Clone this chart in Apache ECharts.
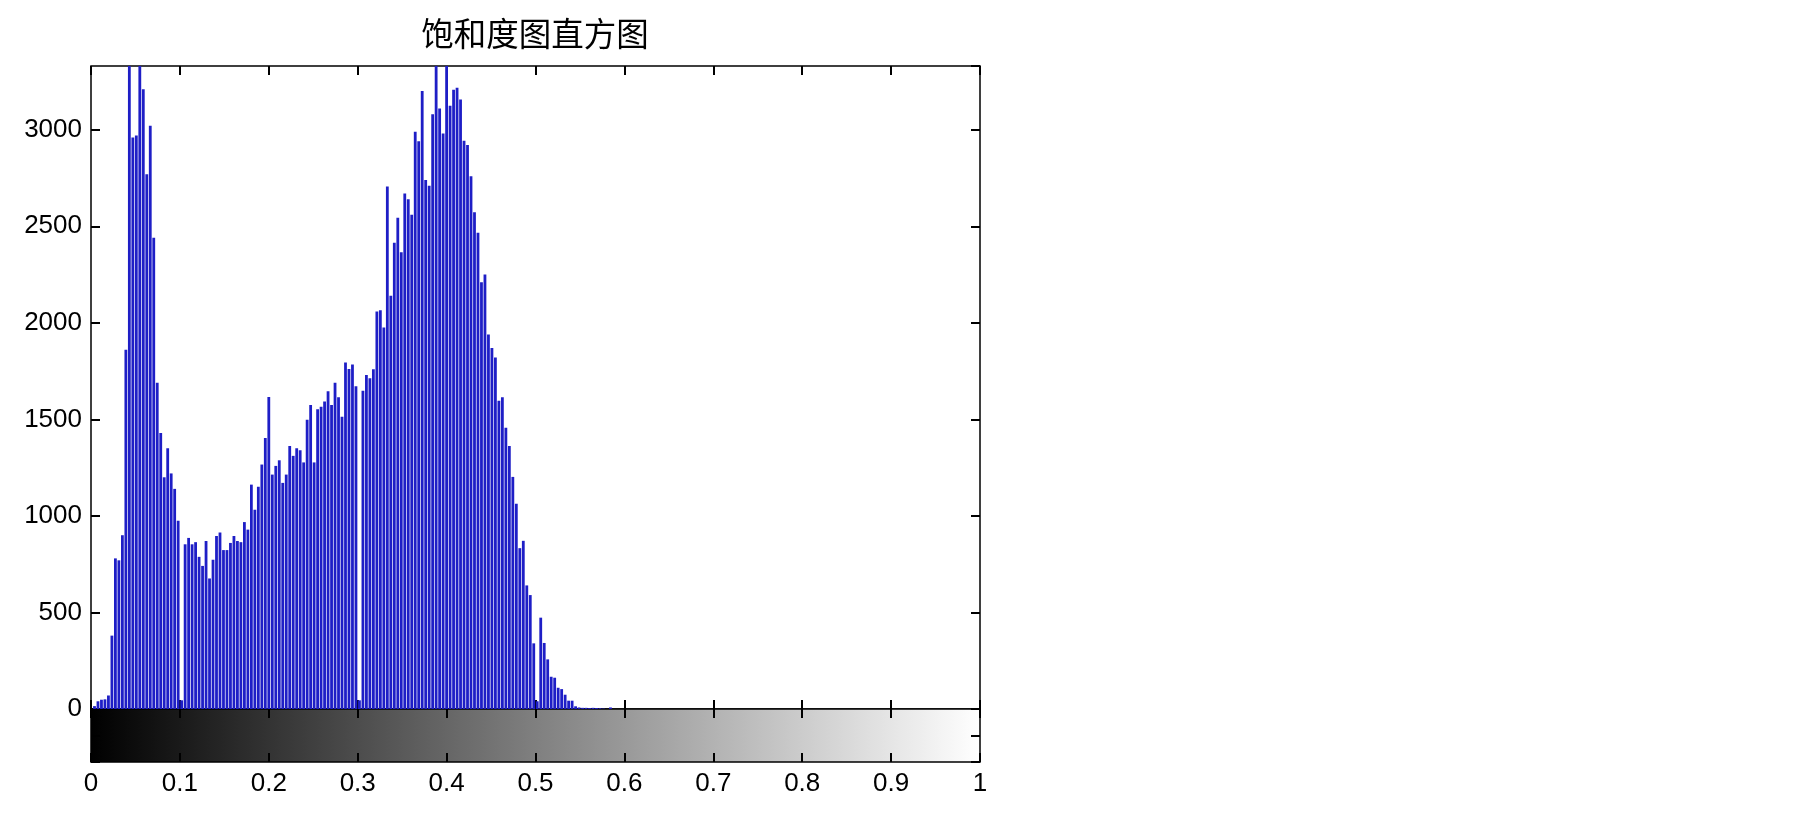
<!DOCTYPE html>
<html>
<head>
<meta charset="utf-8">
<script src="https://cdn.jsdelivr.net/npm/echarts@6.0.0/dist/echarts.min.js"></script>
<style>
  html, body { margin: 0; padding: 0; background: #fff; }
  #chart { width: 1805px; height: 815px; }
</style>
</head>
<body>
<div id="chart"></div>
<script>
// imhist-style histogram of saturation, 256 bins over [0, 1]
// counts for bins 0..149, bins above 149 are empty
const binCounts = [
  0, 15, 40, 48, 50, 70, 380, 780, 770, 900,
  1860, 3400, 2960, 2970, 3400, 3210, 2770, 3020, 2440, 1690,
  1430, 1200, 1350, 1220, 1140, 975, 45, 853, 886, 853,
  864, 788, 741, 870, 676, 773, 896, 914, 823, 823,
  860, 896, 870, 864, 968, 929, 1162, 1032, 1151, 1266,
  1404, 1616, 1214, 1259, 1288, 1171, 1214, 1362, 1311, 1351,
  1340, 1277, 1498, 1574, 1277, 1552, 1565, 1592, 1646, 1574,
  1689, 1615, 1513, 1795, 1761, 1784, 1671, 45, 1648, 1730,
  1713, 1760, 2058, 2065, 1976, 2706, 2140, 2415, 2544, 2365,
  2670, 2640, 2560, 2990, 2940, 3200, 2740, 2710, 3080, 3400,
  3110, 2980, 3400, 3124, 3207, 3218, 3157, 2943, 2921, 2759,
  2572, 2466, 2210, 2250, 1940, 1870, 1820, 1597, 1615, 1457,
  1362, 1202, 1063, 833, 871, 640, 590, 340, 40, 473,
  342, 257, 167, 162, 110, 103, 74, 43, 43, 14,
  8, 6, 6, 5, 6, 5, 4, 2, 0, 8
];
const numBins = 256;
const yMax = 3330;
const yStep = 500;
const xStep = 0.1;
const titleText = '饱和度图直方图';

const font = 'Liberation Sans, Arial, sans-serif';
const plotLeft = 91, plotTop = 66, plotW = 889, plotH = 643, barH = 53;

const chart = echarts.init(document.getElementById('chart'));

// matlab style: ticks point into the box on every side
const tick = { show: true, inside: true, length: 9, lineStyle: { color: '#000', width: 2 } };
const noLabel = { show: false };
// onZero off, otherwise the mirrored axes jump onto the opposite edge
const noLine = { show: false, onZero: false };
const noSplit = { show: false };

const option = {
  backgroundColor: '#fff',
  animation: false,
  title: {
    text: titleText,
    left: 530,
    textAlign: 'center',
    top: 12,
    textStyle: { fontFamily: 'Noto Sans CJK SC', fontSize: 32.5, fontWeight: 'normal', color: '#000' }
  },
  grid: [
    { left: plotLeft, top: plotTop, width: plotW, height: plotH, show: true,
      borderColor: '#000', borderWidth: 1.5, backgroundColor: '#fff' },
    { left: plotLeft, top: plotTop + plotH, width: plotW, height: barH, show: true,
      borderColor: '#000', borderWidth: 1.5,
      backgroundColor: new echarts.graphic.LinearGradient(0, 0, 1, 0, [
        { offset: 0, color: '#000' }, { offset: 1, color: '#fff' }
      ]) }
  ],
  xAxis: [
    { type: 'value', gridIndex: 0, position: 'bottom', min: 0, max: 1, interval: xStep,
      axisLine: noLine, axisTick: tick, axisLabel: noLabel, splitLine: noSplit },
    { type: 'value', gridIndex: 0, position: 'top', min: 0, max: 1, interval: xStep,
      axisLine: noLine, axisTick: tick, axisLabel: noLabel, splitLine: noSplit },
    { type: 'value', gridIndex: 1, position: 'bottom', min: 0, max: 1, interval: xStep,
      axisLine: noLine, axisTick: tick, splitLine: noSplit,
      axisLabel: { show: true, margin: 9, color: '#000', fontFamily: font, fontSize: 26,
        formatter: v => String(+v.toFixed(1)) } },
    { type: 'value', gridIndex: 1, position: 'top', min: 0, max: 1, interval: xStep,
      axisLine: noLine, axisTick: tick, axisLabel: noLabel, splitLine: noSplit }
  ],
  yAxis: [
    { type: 'value', gridIndex: 0, position: 'left', min: 0, max: yMax, interval: yStep,
      axisLine: noLine, axisTick: tick, splitLine: noSplit,
      axisLabel: { show: true, margin: 9, color: '#000', fontFamily: font, fontSize: 26,
        showMaxLabel: false, formatter: v => (v % yStep === 0 ? String(v) : '') } },
    { type: 'value', gridIndex: 0, position: 'right', min: 0, max: yMax, interval: yStep,
      axisLine: noLine, axisTick: tick, axisLabel: noLabel, splitLine: noSplit },
    { type: 'value', gridIndex: 1, position: 'left', min: 0, max: 1, interval: 0.5,
      axisLine: noLine, axisTick: tick, axisLabel: noLabel, splitLine: noSplit },
    { type: 'value', gridIndex: 1, position: 'right', min: 0, max: 1, interval: 0.5,
      axisLine: noLine, axisTick: tick, axisLabel: noLabel, splitLine: noSplit }
  ],
  series: [
    {
      type: 'bar',
      xAxisIndex: 0,
      yAxisIndex: 0,
      barWidth: 2.8,
      clip: true,
      itemStyle: { color: '#1e1ec6' },
      data: binCounts.map((c, i) => [i / (numBins - 1), c])
    }
  ]
};

chart.setOption(option);
</script>
</body>
</html>
